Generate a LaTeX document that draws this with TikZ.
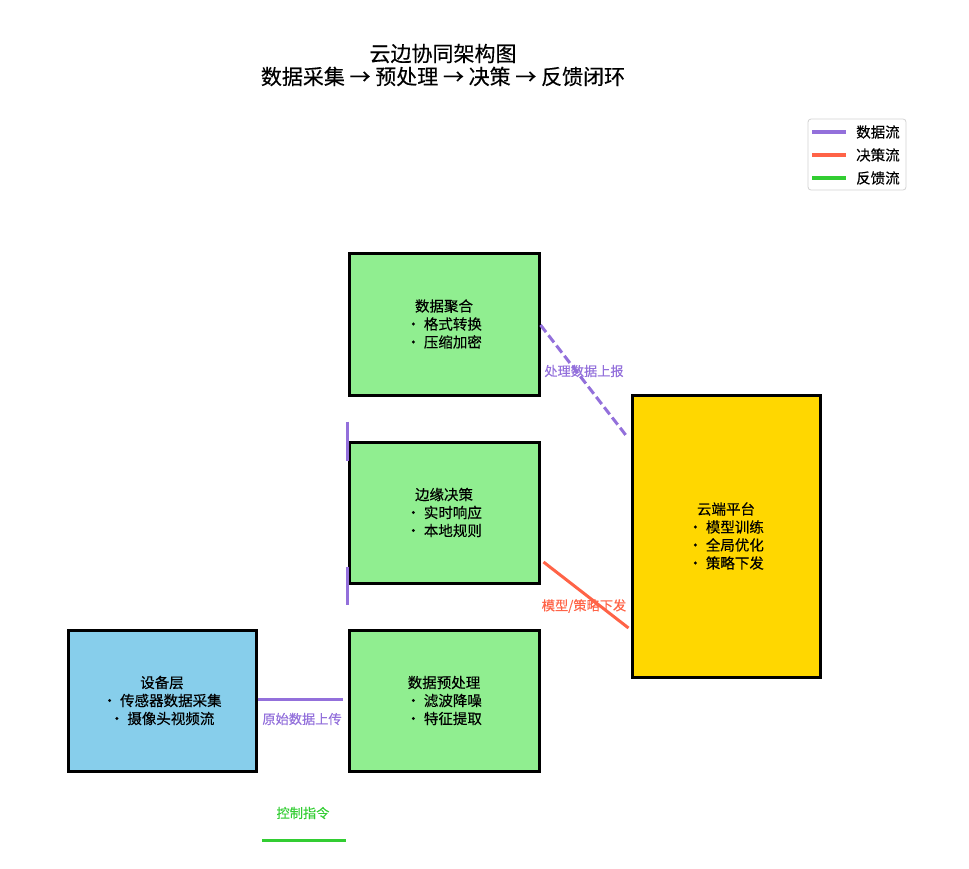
\documentclass[tikz,border=0pt]{standalone}
\usepackage{fontspec}
\setmainfont{Noto Sans CJK SC}[FakeBold=0.3]
\usetikzlibrary{calc}
\definecolor{mpurple}{RGB}{147,112,219}
\definecolor{tomatoc}{RGB}{255,99,71}
\definecolor{limeg}{RGB}{50,205,50}
\definecolor{lgreen}{RGB}{144,238,144}
\definecolor{skyb}{RGB}{135,206,235}
\definecolor{goldc}{RGB}{255,215,0}
\tikzset{
  box/.style={draw=black, line width=3pt, rectangle, align=center, font=\fontsize{14.5}{18}\selectfont, inner sep=0pt},
  lbl/.style={font=\fontsize{13.2}{15}\selectfont, inner sep=1pt},
  flow/.style={line width=3pt},
  legline/.style={line width=3.5pt},
  legtxt/.style={anchor=west, font=\fontsize{14.5}{16}\selectfont, inner sep=0pt},
}
\begin{document}
\begin{tikzpicture}[x=1pt,y=-1pt]
\useasboundingbox (0,0) rectangle (969,868);
\node[align=center, font=\fontsize{21}{23}\selectfont] (title) at (443,65) {云边协同架构图\\数据采集 → 预处理 → 决策 → 反馈闭环};

% legend
\node[draw={rgb,255:red,210;green,210;blue,210}, line width=0.8pt, rounded corners=3pt, minimum width=98pt, minimum height=71pt, inner sep=0pt] (leg) at (857,154.5) {};
\coordinate (l1a) at (812,132); \coordinate (l1b) at (846,132);
\coordinate (l2a) at (812,155); \coordinate (l2b) at (846,155);
\coordinate (l3a) at (812,178); \coordinate (l3b) at (846,178);
\draw[legline, mpurple] (l1a) -- (l1b);
\draw[legline, tomatoc] (l2a) -- (l2b);
\draw[legline, limeg] (l3a) -- (l3b);
\node[legtxt] (lt1) at (856,132) {数据流};
\node[legtxt] (lt2) at (856,155) {决策流};
\node[legtxt] (lt3) at (856,178) {反馈流};

% boxes
\node[box, fill=lgreen, minimum width=190pt, minimum height=142pt] (agg) at (444,324) {数据聚合\\・ 格式转换\\・ 压缩加密};
\node[box, fill=lgreen, minimum width=190pt, minimum height=141pt] (dec) at (444,512.5) {边缘决策\\・ 实时响应\\・ 本地规则};
\node[box, fill=lgreen, minimum width=190pt, minimum height=141pt] (pre) at (444,700.5) {数据预处理\\・ 滤波降噪\\・ 特征提取};
\node[box, fill=skyb, minimum width=188pt, minimum height=141pt] (dev) at (162,700.5) {设备层\\・ 传感器数据采集\\・ 摄像头视频流};
\node[box, fill=goldc, minimum width=188pt, minimum height=282pt] (cloud) at (726,536) {云端平台\\・ 模型训练\\・ 全局优化\\・ 策略下发};

% connectors
\coordinate (d1) at ($(dev.east)+(0,-1.5)$);
\coordinate (p1) at ($(pre.west)+(-5,-1.5)$);
\draw[flow, mpurple] (d1) -- (p1);
\node[lbl, text=mpurple] (lraw) at (302,719) {原始数据上传};

\coordinate (a1) at ($(agg.east)+(0,1)$);
\coordinate (c1) at ($(cloud.west)+(-4,-100)$);
\draw[flow, mpurple, dash pattern=on 9pt off 4pt] (a1) -- (c1);
\node[lbl, text=mpurple] (lup) at (584,371) {处理数据上报};

\coordinate (e1) at ($(dec.east)+(3,49.5)$);
\coordinate (c2) at ($(cloud.west)+(-2,92)$);
\draw[flow, tomatoc] (e1) -- (c2);
\node[lbl, text=tomatoc] (ldown) at (584,606) {模型/策略下发};

\coordinate (v1) at ($(dec.north west)+(0,-19)$);
\coordinate (v2) at ($(dec.north west)+(0,20)$);
\coordinate (v3) at ($(dec.south west)+(0,-18)$);
\coordinate (v4) at ($(dec.south west)+(0,20)$);
\draw[flow, mpurple] (v1) -- (v2);
\draw[flow, mpurple] (v3) -- (v4);

\coordinate (g1) at (262,840);
\coordinate (g2) at (346,840);
\draw[flow, limeg] (g1) -- (g2);
\node[lbl, text=limeg] (lctl) at (303,813) {控制指令};
\end{tikzpicture}
\end{document}
